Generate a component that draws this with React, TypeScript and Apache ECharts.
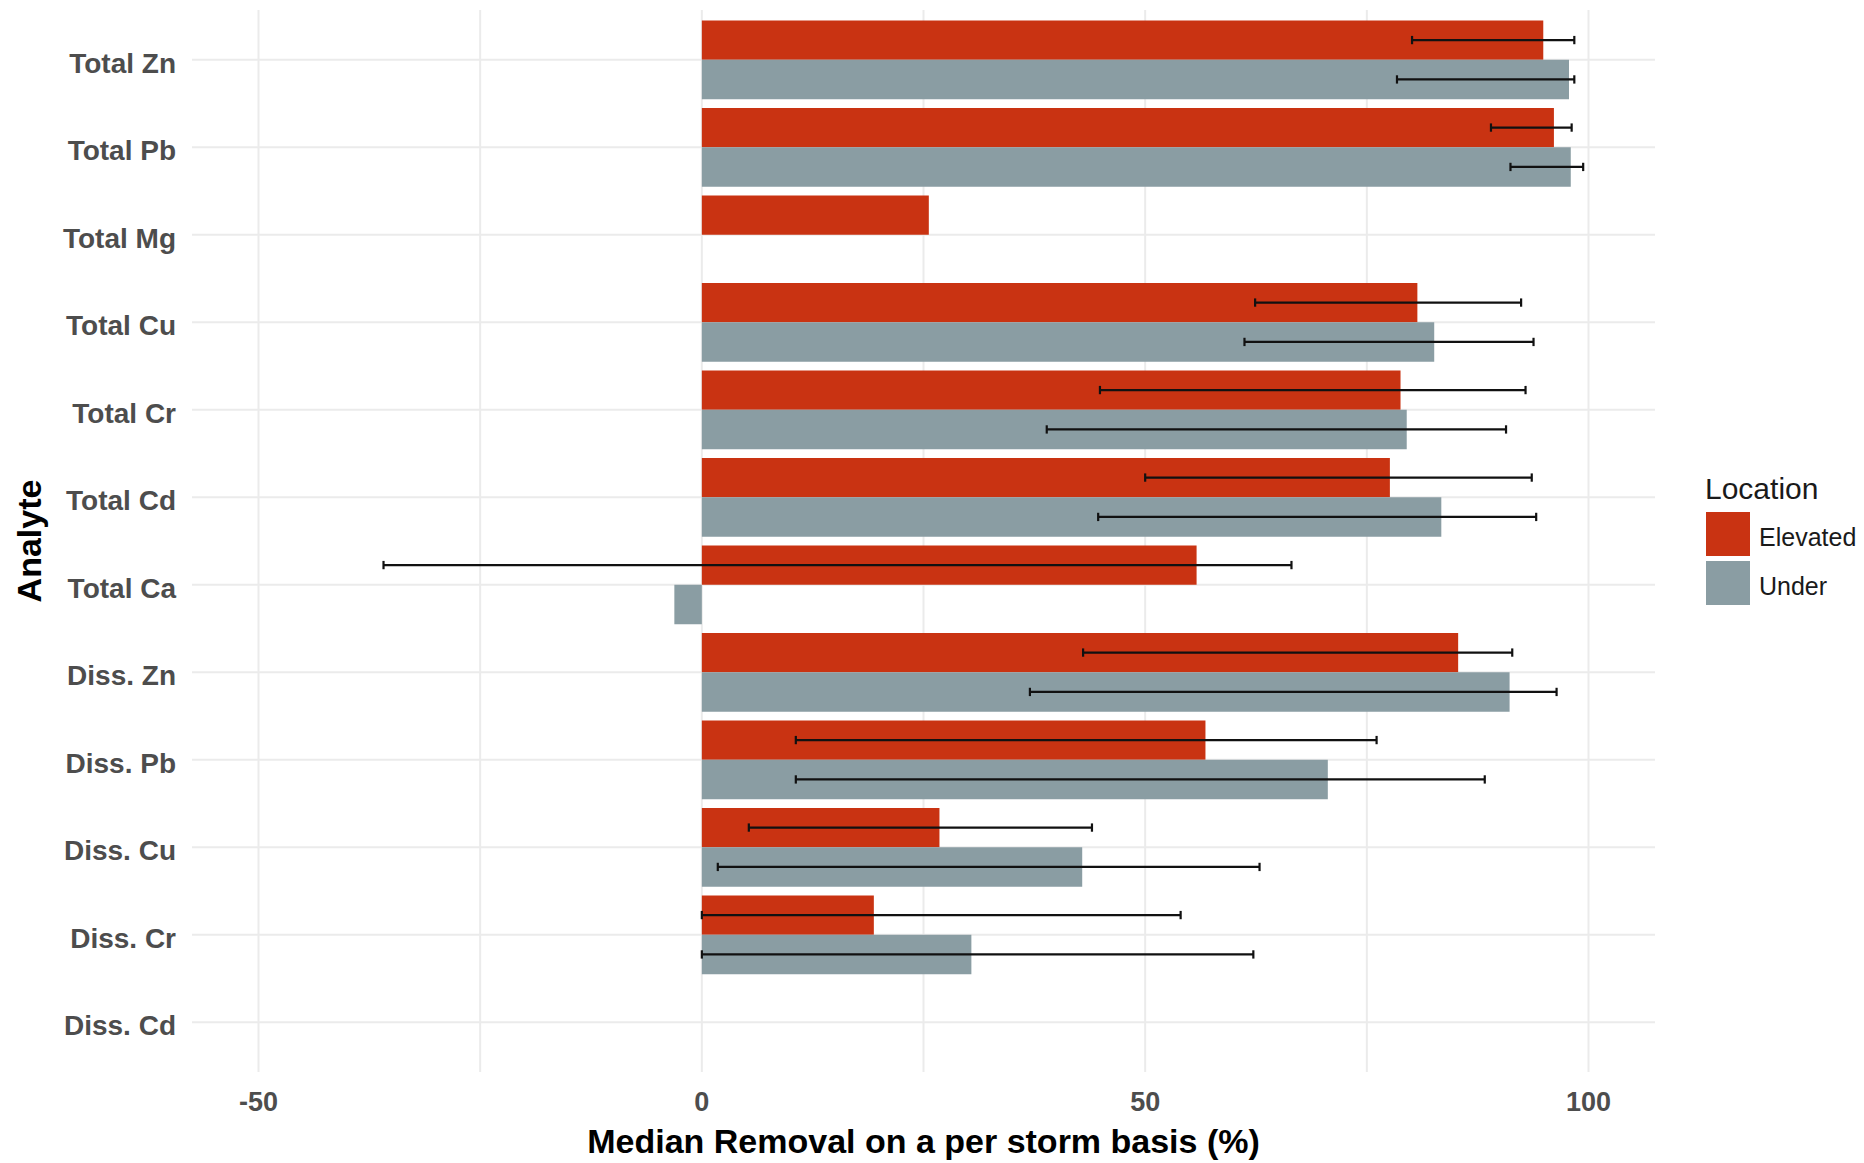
import React, { useEffect, useRef } from "react";
import * as echarts from "echarts";

// Analytes, top to bottom
const categories = [
  "Total Zn",
  "Total Pb",
  "Total Mg",
  "Total Cu",
  "Total Cr",
  "Total Cd",
  "Total Ca",
  "Diss. Zn",
  "Diss. Pb",
  "Diss. Cu",
  "Diss. Cr",
  "Diss. Cd",
];

// Median removal (%) per location
const elevated = [94.9, 96.1, 25.6, 80.7, 78.8, 77.6, 55.8, 85.3, 56.8, 26.8, 19.4, null];
const under = [97.8, 98.0, null, 82.6, 79.5, 83.4, -3.1, 91.1, 70.6, 42.9, 30.4, null];

// Error bar ranges (%)
const elevatedLow = [80.1, 89.0, null, 62.4, 44.9, 50.0, -35.9, 43.0, 10.6, 5.3, 0, null];
const elevatedHigh = [98.4, 98.1, null, 92.4, 92.9, 93.6, 66.5, 91.4, 76.1, 44.0, 54.0, null];
const underLow = [78.4, 91.2, null, 61.2, 38.9, 44.7, null, 37.0, 10.6, 1.8, 0, null];
const underHigh = [98.4, 99.4, null, 93.8, 90.7, 94.1, null, 96.4, 88.3, 62.9, 62.2, null];

// Axis scale
const xMin = -57.5;
const xMax = 107.5;
const xTickLabels = [-50, 0, 50, 100];
const xGridValues = [-50, -25, 0, 25, 50, 75, 100];

const seriesNames = ["Elevated", "Under"];
const ELEVATED_COLOR = "#C93312";
const UNDER_COLOR = "#8A9DA3";
const GRID_COLOR = "#EBEBEB";
const FONT = "'Liberation Sans', Arial, Helvetica, sans-serif";

export default function App() {
  const ref = useRef<HTMLDivElement>(null);

  useEffect(() => {
    if (!ref.current) return;
    const chart = echarts.init(ref.current, null, { renderer: "svg" });

    // [x, categoryIndex, kind]: kind 0 = vertical line, 1 = horizontal line
    const gridData: number[][] = [
      ...xGridValues.map((v) => [v, 0, 0]),
      ...categories.map((_, i) => [0, i, 1]),
    ];

    // [low, categoryIndex, high, seriesIndex]
    const errData: number[][] = [];
    categories.forEach((_, i) => {
      if (elevatedLow[i] != null && elevatedHigh[i] != null)
        errData.push([elevatedLow[i] as number, i, elevatedHigh[i] as number, 0]);
      if (underLow[i] != null && underHigh[i] != null)
        errData.push([underLow[i] as number, i, underHigh[i] as number, 1]);
    });

    chart.setOption({
      animation: false,
      backgroundColor: "#ffffff",
      textStyle: { fontFamily: FONT },
      title: {
        text: "Location",
        left: 1705,
        top: 473,
        padding: 0,
        textStyle: { fontSize: 30, fontWeight: "normal", color: "#1A1A1A", fontFamily: FONT },
      },
      legend: {
        data: seriesNames,
        orient: "vertical",
        left: 1706,
        top: 512,
        padding: 0,
        itemWidth: 44,
        itemHeight: 44,
        itemGap: 5,
        icon: "rect",
        selectedMode: false,
        formatter: (name: string) => `{k|${name}}`,
        textStyle: {
          fontSize: 25,
          color: "#1A1A1A",
          fontFamily: FONT,
          rich: {
            k: { fontSize: 25, color: "#1A1A1A", fontFamily: FONT, padding: [5, 0, 0, 4] },
          },
        },
      },
      grid: { left: 192, right: 209, top: 16, bottom: 97, containLabel: false },
      xAxis: {
        type: "value",
        min: xMin,
        max: xMax,
        name: "Median Removal on a per storm basis (%)",
        nameLocation: "middle",
        nameGap: 58,
        nameTextStyle: { fontSize: 34, fontWeight: "bold", color: "#000000", fontFamily: FONT },
        axisLine: { show: false },
        axisTick: { show: false, customValues: xTickLabels },
        splitLine: { show: false },
        axisLabel: {
          customValues: xTickLabels,
          fontSize: 27,
          fontWeight: "bold",
          color: "#4D4D4D",
          margin: 22,
          fontFamily: FONT,
        },
      },
      yAxis: {
        type: "category",
        data: categories,
        inverse: true,
        name: "Analyte",
        nameLocation: "middle",
        nameRotate: 90,
        nameGap: 146,
        nameTextStyle: { fontSize: 34, fontWeight: "bold", color: "#000000", fontFamily: FONT },
        axisLine: { show: false },
        axisTick: { show: false },
        splitLine: { show: false },
        axisLabel: {
          margin: 16,
          formatter: (v: string) => `{c|${v}}`,
          rich: {
            c: {
              fontSize: 28,
              fontWeight: "bold",
              color: "#4D4D4D",
              fontFamily: FONT,
              padding: [7, 0, 0, 0],
            },
          },
        },
      },
      series: [
        {
          type: "custom",
          name: "gridlines",
          silent: true,
          clip: false,
          z: 0,
          encode: { x: 0, y: 1 },
          data: gridData,
          renderItem: (params: any, api: any) => {
            const cs = params.coordSys;
            const kind = api.value(2);
            if (kind === 0) {
              const x = api.coord([api.value(0), 0])[0];
              return {
                type: "line",
                shape: { x1: x, y1: cs.y - 6, x2: x, y2: cs.y + cs.height + 6 },
                style: { stroke: GRID_COLOR, lineWidth: 2 },
              };
            }
            const y = api.coord([0, api.value(1)])[1];
            return {
              type: "line",
              shape: { x1: cs.x, y1: y, x2: cs.x + cs.width, y2: y },
              style: { stroke: GRID_COLOR, lineWidth: 2 },
            };
          },
        },
        {
          type: "bar",
          name: seriesNames[0],
          data: elevated,
          z: 2,
          barGap: "0%",
          barCategoryGap: "10%",
          itemStyle: { color: ELEVATED_COLOR },
        },
        {
          type: "bar",
          name: seriesNames[1],
          data: under,
          z: 2,
          barGap: "0%",
          barCategoryGap: "10%",
          itemStyle: { color: UNDER_COLOR },
        },
        {
          type: "custom",
          name: "errorbars",
          silent: true,
          clip: false,
          z: 3,
          encode: { x: [0, 2], y: 1 },
          data: errData,
          renderItem: (_params: any, api: any) => {
            const cat = api.value(1);
            const low = api.value(0);
            const high = api.value(2);
            const s = api.value(3);
            const band = api.size([0, 1])[1];
            const cy = api.coord([0, cat])[1] + (s === 0 ? -1 : 1) * (band * 0.9) / 4;
            const x1 = api.coord([low, cat])[0];
            const x2 = api.coord([high, cat])[0];
            const h = band * 0.0475;
            const style = { stroke: "#111111", lineWidth: 2.2 };
            return {
              type: "group",
              children: [
                { type: "line", shape: { x1, y1: cy, x2, y2: cy }, style },
                { type: "line", shape: { x1, y1: cy - h, x2: x1, y2: cy + h }, style },
                { type: "line", shape: { x1: x2, y1: cy - h, x2, y2: cy + h }, style },
              ],
            };
          },
        },
      ],
    });

    return () => chart.dispose();
  }, []);

  return (
    <div
      ref={ref}
      style={{ position: "fixed", left: 0, top: 0, width: 1864, height: 1163, background: "#ffffff" }}
    />
  );
}
